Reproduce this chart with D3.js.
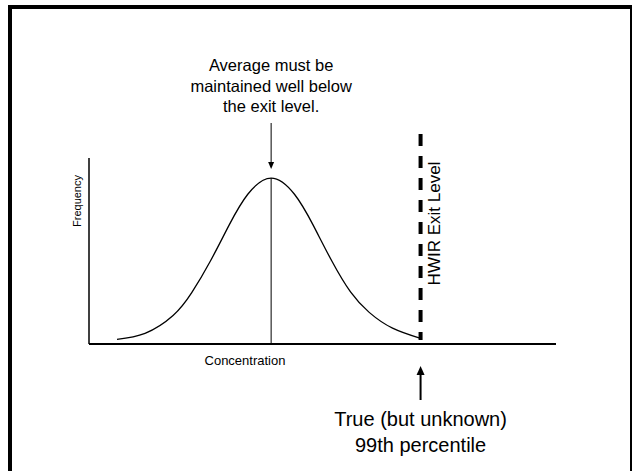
<!DOCTYPE html>
<html>
<head>
<meta charset="utf-8">
<script src="https://cdn.jsdelivr.net/npm/d3@7"></script>
<style>
  html, body { margin: 0; padding: 0; background: #fff; }
  svg { display: block; }
  text { font-family: "Liberation Sans", Arial, sans-serif; fill: #000; }
</style>
</head>
<body>
<svg id="chart"></svg>
<script>
// data (concentration / frequency, arbitrary units)
const concentration = [6, 12, 18, 22, 26, 30, 34, 39, 44, 48, 52, 56, 60, 65, 71];
const frequency     = [2.5, 5.7, 15.3, 27.6, 44.6, 63.9, 80.5, 89.2, 80.5, 63.9, 44.6, 28, 17, 8.5, 3];
const meanConc  = 39;     // average, at the peak
const exitLevel = 71;     // HWIR exit level / 99th percentile

const topNote    = ["Average must be", "maintained well below", "the exit level."];
const bottomNote = ["True (but unknown)", "99th percentile"];
const xLabel = "Concentration";
const yLabel = "Frequency";
const exitLabel = "HWIR Exit Level";

// setup
const width  = 632;
const height = 471;

const svg = d3.select("#chart")
              .attr("width", width)
              .attr("height", height);

const x = d3.scaleLinear().domain([0, 100]).range([89, 556]);
const y = d3.scaleLinear().domain([0, 100]).range([344, 158]);

// frame round the whole picture
svg.append("rect")
   .attr("x", 10).attr("y", 7)
   .attr("width", 622).attr("height", 480)
   .attr("fill", "none")
   .attr("stroke", "#000")
   .attr("stroke-width", 4);

// axes (plain lines, no ticks)
svg.append("line")
   .attr("x1", x(0)).attr("x2", x(0))
   .attr("y1", y(0)).attr("y2", y(100))
   .attr("stroke", "#000").attr("stroke-width", 1.5);

svg.append("line")
   .attr("x1", x(0)).attr("x2", x(100))
   .attr("y1", y(0)).attr("y2", y(0))
   .attr("stroke", "#000").attr("stroke-width", 2);

// bell curve
const line = d3.line()
               .x((d, i) => x(concentration[i]))
               .y(d => y(d))
               .curve(d3.curveNatural);

svg.append("path")
   .attr("d", line(frequency))
   .attr("fill", "none")
   .attr("stroke", "#000")
   .attr("stroke-width", 1.3);

// line at the average
svg.append("line")
   .attr("x1", x(meanConc)).attr("x2", x(meanConc))
   .attr("y1", y(d3.max(frequency))).attr("y2", y(0))
   .attr("stroke", "#000").attr("stroke-width", 1);

// exit level, thick dashed
svg.append("line")
   .attr("x1", x(exitLevel)).attr("x2", x(exitLevel))
   .attr("y1", 134).attr("y2", 340)
   .attr("stroke", "#000")
   .attr("stroke-width", 4)
   .attr("stroke-dasharray", "12,10");

svg.append("text")
   .attr("transform", `translate(${x(exitLevel) + 19.5},223.5) rotate(-90)`)
   .attr("text-anchor", "middle")
   .style("font-size", "17px")
   .text(exitLabel);

// axis titles
svg.append("text")
   .attr("transform", "translate(81,201) rotate(-90)")
   .attr("text-anchor", "middle")
   .style("font-size", "11px")
   .text(yLabel);

svg.append("text")
   .attr("x", 245).attr("y", 365)
   .attr("text-anchor", "middle")
   .style("font-size", "13px")
   .text(xLabel);

// top note + arrow down to the peak
svg.append("text")
   .attr("text-anchor", "middle")
   .style("font-size", "16.5px")
   .selectAll("tspan")
   .data(topNote)
   .join("tspan")
     .attr("x", x(meanConc))
     .attr("y", (d, i) => 71 + i * 20.5)
     .text(d => d);

function arrow(xp, yFrom, yTip, w, headLen, headW) {
  const dir = yTip > yFrom ? 1 : -1;
  svg.append("line")
     .attr("x1", xp).attr("x2", xp)
     .attr("y1", yFrom).attr("y2", yTip - dir * headLen)
     .attr("stroke", "#000").attr("stroke-width", w);
  svg.append("path")
     .attr("d", `M${xp},${yTip} L${xp - headW / 2},${yTip - dir * headLen} L${xp + headW / 2},${yTip - dir * headLen} Z`)
     .attr("fill", "#000");
}

arrow(x(meanConc), 123, 169, 1, 7, 6);

// bottom note + arrow up to the exit level
arrow(x(exitLevel), 400, 366, 2, 9, 8);

svg.append("text")
   .attr("text-anchor", "middle")
   .style("font-size", "20px")
   .selectAll("tspan")
   .data(bottomNote)
   .join("tspan")
     .attr("x", x(exitLevel))
     .attr("y", (d, i) => 426 + i * 26)
     .text(d => d);
</script>
</body>
</html>
